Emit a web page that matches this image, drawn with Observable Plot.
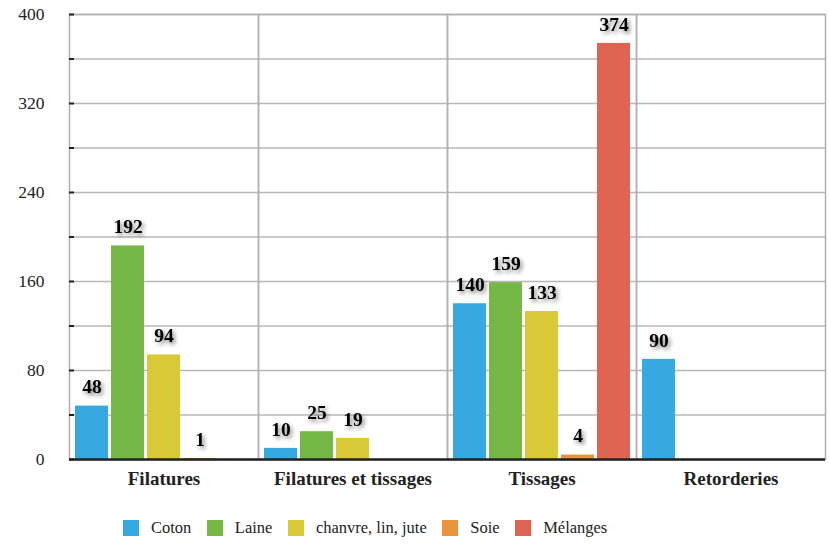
<!DOCTYPE html>
<html>
<head>
<meta charset="utf-8">
<script src="https://cdn.jsdelivr.net/npm/d3@7"></script>
<script src="https://cdn.jsdelivr.net/npm/@observablehq/plot@0.6"></script>
<style>
  html, body { margin: 0; padding: 0; background: #fff; }
  #chart { width: 829px; }
  svg text { font-family: "Liberation Serif", "DejaVu Serif", serif; }
  .legend { display: flex; justify-content: flex-start; align-items: center; height: 40px;
            font-family: "Liberation Serif", "DejaVu Serif", serif; font-size: 16.5px; color: #222;
            padding-left: 123px; margin-top: 3px; }
  .legend .item { display: flex; align-items: center; margin-right: 15.5px; }
  .legend .sw { width: 16px; height: 16px; margin-right: 12px; }
</style>
</head>
<body>
<svg width="0" height="0" style="position:absolute">
  <defs>
    <filter id="shadow" x="-40%" y="-40%" width="180%" height="190%">
      <feDropShadow dx="2" dy="2.5" stdDeviation="2.2" flood-color="#000" flood-opacity="0.5"/>
    </filter>
  </defs>
</svg>
<div id="chart"></div>
<script>
const categories = ["Filatures", "Filatures et tissages", "Tissages", "Retorderies"];
const series = ["Coton", "Laine", "chanvre, lin, jute", "Soie", "Mélanges"];
const coton    = [48, 10, 140, 90];
const laine    = [192, 25, 159, null];
const chanvre  = [94, 19, 133, null];
const soie     = [1, null, 4, null];
const melanges = [null, null, 374, null];
const colors = ["#36a9e1", "#76b845", "#dac937", "#e8943a", "#df6452"];
const yTicks = [0, 80, 160, 240, 320, 400];
const minorTicks = [0, 40, 80, 120, 160, 200, 240, 280, 320, 360, 400];

const valueSets = [coton, laine, chanvre, soie, melanges];
const data = [];
categories.forEach((c, i) => {
  series.forEach((s, j) => {
    const v = valueSets[j][i];
    if (v != null) data.push({category: c, series: s, value: v});
  });
});

const serif = "'Liberation Serif', 'DejaVu Serif', serif";

const chart = Plot.plot({
  width: 829,
  height: 505,
  marginLeft: 68,
  marginRight: 3,
  marginTop: 14,
  marginBottom: 46,
  style: {fontFamily: serif, background: "#fff"},
  fx: {domain: categories, padding: 0, label: null},
  x: {domain: series, paddingInner: 0.091, paddingOuter: 0.155, align: 0.45, axis: null},
  y: {domain: [0, 400], label: null},
  color: {domain: series, range: colors},
  marks: [
    Plot.gridY(minorTicks, {stroke: "#b8b8b8", strokeOpacity: 1, strokeWidth: 1.5}),
    Plot.frame({stroke: "#b0b0b0", strokeWidth: 1.5}),
    Plot.barY(data, {fx: "category", x: "series", y: "value", fill: "series"}),
    Plot.ruleY([0], {stroke: "#222", strokeWidth: 2.5}),
    Plot.text(data, {fx: "category", x: "series", y: "value", text: d => String(d.value),
      dy: -19, fontSize: 19.5, fontWeight: "bold", fill: "#000"}),
    Plot.axisY(minorTicks, {anchor: "left", tickSize: -5, tickFormat: () => "", stroke: "#222", strokeWidth: 2}),
    Plot.axisY(yTicks, {anchor: "left", tickSize: 0, tickPadding: 25, fontSize: 17.5, fill: "#222"}),
    Plot.axisFx({anchor: "bottom", tickSize: 0, tickPadding: 12, fontSize: 19, fontWeight: "bold", fill: "#222", label: null})
  ]
});

chart.querySelectorAll('g[aria-label="text"]').forEach(g => g.setAttribute("filter", "url(#shadow)"));
document.getElementById("chart").appendChild(chart);

const legend = document.createElement("div");
legend.className = "legend";
series.forEach((s, j) => {
  const item = document.createElement("div");
  item.className = "item";
  const sw = document.createElement("div");
  sw.className = "sw";
  sw.style.background = colors[j];
  const t = document.createElement("span");
  t.textContent = s;
  item.appendChild(sw);
  item.appendChild(t);
  legend.appendChild(item);
});
document.getElementById("chart").appendChild(legend);
</script>
</body>
</html>
